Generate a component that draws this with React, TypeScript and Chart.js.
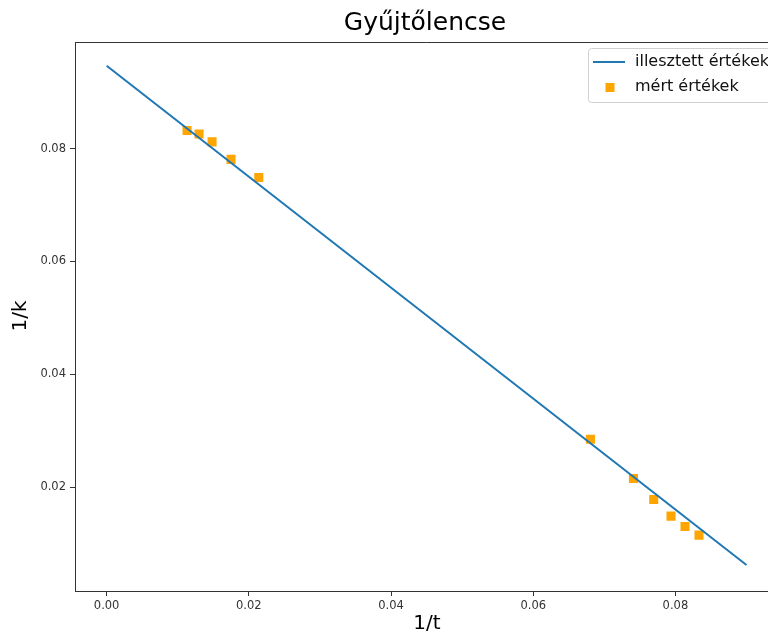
import React, { useEffect, useRef } from "react";
import { Chart, registerables } from "chart.js";

Chart.register(...registerables);

const chartTitle = "Gyűjtőlencse";
const xLabel = "1/t";
const yLabel = "1/k";
const fitLabel = "illesztett értékek";
const measuredLabel = "mért értékek";

const xTicks = [0.0, 0.02, 0.04, 0.06, 0.08];
const yTicks = [0.02, 0.04, 0.06, 0.08];

const fitX = [0, 0.09];
const fitY = [0.0947, 0.0062];

const measuredX = [0.01131, 0.013, 0.01483, 0.0175, 0.0214, 0.06805, 0.0741, 0.07695, 0.07938, 0.08135, 0.08332];
const measuredY = [0.0832, 0.0826, 0.0812, 0.0781, 0.0749, 0.0285, 0.02154, 0.01782, 0.01487, 0.01304, 0.0115];

const FONT = "'DejaVu Sans', sans-serif";

const framePlugin = {
  id: "frameAndText",
  afterDraw(chart: any) {
    const { ctx, chartArea } = chart;
    const { left, right, top } = chartArea;
    ctx.save();
    // top spine (right spine lies outside the visible page)
    ctx.strokeStyle = "#333";
    ctx.lineWidth = 1;
    ctx.beginPath();
    ctx.moveTo(left, top + 0.5);
    ctx.lineTo(right, top + 0.5);
    ctx.stroke();

    // title
    ctx.fillStyle = "#000";
    ctx.font = `25px ${FONT}`;
    ctx.textAlign = "center";
    ctx.textBaseline = "alphabetic";
    ctx.fillText(chartTitle, 425, 30);

    // axis titles
    ctx.font = `20px ${FONT}`;
    ctx.textBaseline = "middle";
    ctx.fillText(xLabel, 427, 624);
    ctx.save();
    ctx.translate(21, 316);
    ctx.rotate(-Math.PI / 2);
    ctx.fillText(yLabel, 0, 0);
    ctx.restore();

    // legend
    const bx = 588.5, by = 48.5, bw = 184, bh = 54, r = 3;
    ctx.beginPath();
    ctx.moveTo(bx + r, by);
    ctx.lineTo(bx + bw - r, by);
    ctx.quadraticCurveTo(bx + bw, by, bx + bw, by + r);
    ctx.lineTo(bx + bw, by + bh - r);
    ctx.quadraticCurveTo(bx + bw, by + bh, bx + bw - r, by + bh);
    ctx.lineTo(bx + r, by + bh);
    ctx.quadraticCurveTo(bx, by + bh, bx, by + bh - r);
    ctx.lineTo(bx, by + r);
    ctx.quadraticCurveTo(bx, by, bx + r, by);
    ctx.closePath();
    ctx.fillStyle = "rgba(255,255,255,0.85)";
    ctx.fill();
    ctx.strokeStyle = "#d0d0d0";
    ctx.stroke();

    ctx.strokeStyle = "#1f77b4";
    ctx.lineWidth = 2;
    ctx.beginPath();
    ctx.moveTo(593, 62);
    ctx.lineTo(625, 62);
    ctx.stroke();

    ctx.fillStyle = "#ffa500";
    ctx.fillRect(605.5, 83, 9, 9);

    ctx.fillStyle = "#111";
    ctx.font = `16px ${FONT}`;
    ctx.textAlign = "left";
    ctx.textBaseline = "middle";
    ctx.fillText(fitLabel, 635, 62);
    ctx.fillText(measuredLabel, 635, 87);
    ctx.restore();
  },
};

export default function App() {
  const canvasRef = useRef<HTMLCanvasElement | null>(null);

  useEffect(() => {
    const canvas = canvasRef.current;
    if (!canvas) return;
    const chart = new Chart(canvas, {
      type: "scatter",
      data: {
        datasets: [
          {
            label: fitLabel,
            type: "line",
            data: fitX.map((x, i) => ({ x, y: fitY[i] })),
            borderColor: "#1f77b4",
            borderWidth: 2,
            pointRadius: 0,
            showLine: true,
            fill: false,
          } as any,
          {
            label: measuredLabel,
            data: measuredX.map((x, i) => ({ x, y: measuredY[i] })),
            pointStyle: "rect",
            pointRadius: 6.4,
            pointHoverRadius: 6.4,
            backgroundColor: "#ffa500",
            borderWidth: 0,
          } as any,
        ],
      },
      options: {
        animation: false,
        responsive: false,
        devicePixelRatio: 1,
        layout: { padding: { top: 42, left: 0, right: 11.5, bottom: 0 } },
        plugins: {
          legend: { display: false },
          title: { display: false },
          tooltip: { enabled: false },
        },
        scales: {
          x: {
            type: "linear",
            min: -0.00445,
            max: 0.0945,
            afterBuildTicks: (scale: any) => {
              scale.ticks = xTicks.map((v) => ({ value: v }));
            },
            afterFit: (scale: any) => {
              scale.height = 46;
            },
            grid: {
              drawOnChartArea: false,
              drawTicks: true,
              tickLength: 5,
              color: "#333",
            },
            border: { display: true, color: "#333", width: 1 },
            ticks: {
              color: "#333",
              font: { family: FONT, size: 11.5 },
              padding: 3,
              maxRotation: 0,
              callback: (v: any) => Number(v).toFixed(2),
            },
          },
          y: {
            type: "linear",
            min: 0.0016,
            max: 0.0989,
            afterBuildTicks: (scale: any) => {
              scale.ticks = yTicks.map((v) => ({ value: v }));
            },
            afterFit: (scale: any) => {
              scale.width = 75;
            },
            grid: {
              drawOnChartArea: false,
              drawTicks: true,
              tickLength: 5,
              color: "#333",
            },
            border: { display: true, color: "#333", width: 1 },
            ticks: {
              color: "#333",
              font: { family: FONT, size: 11.5 },
              padding: 4,
              callback: (v: any) => Number(v).toFixed(2),
            },
          },
        },
      } as any,
      plugins: [framePlugin],
    });
    return () => chart.destroy();
  }, []);

  return (
    <div
      style={{
        position: "absolute",
        left: 0,
        top: 0,
        width: 768,
        height: 637,
        overflow: "hidden",
        background: "#fff",
      }}
    >
      <canvas ref={canvasRef} width={790} height={637} style={{ display: "block", width: 790, height: 637 }} />
    </div>
  );
}
